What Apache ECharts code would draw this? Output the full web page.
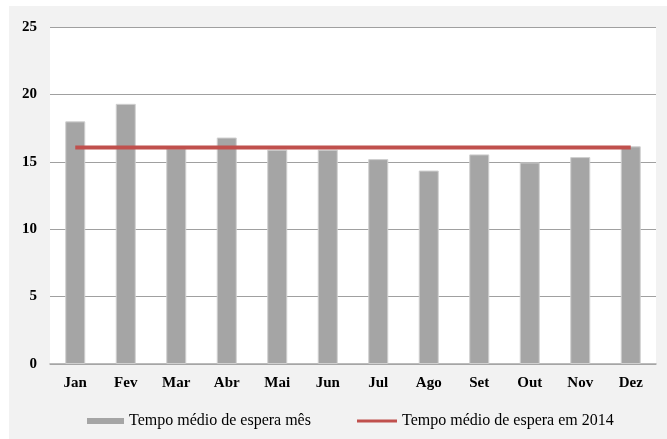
<!DOCTYPE html>
<html>
<head>
<meta charset="utf-8">
<script src="https://cdn.jsdelivr.net/npm/echarts@6/dist/echarts.min.js"></script>
<style>
  html, body { margin: 0; padding: 0; background: #ffffff; }
  #chart { width: 667px; height: 439px; }
</style>
</head>
<body>
<div id="chart"></div>
<script>
// meses
var months = ['Jan', 'Fev', 'Mar', 'Abr', 'Mai', 'Jun', 'Jul', 'Ago', 'Set', 'Out', 'Nov', 'Dez'];
// tempo médio de espera por mês
var monthlyWait = [18.0, 19.3, 16.0, 16.8, 15.9, 15.9, 15.2, 14.35, 15.55, 14.95, 15.35, 16.15];
// tempo médio de espera em 2014 (constante)
var yearWait = [16.07, 16.07, 16.07, 16.07, 16.07, 16.07, 16.07, 16.07, 16.07, 16.07, 16.07, 16.07];
var yTicks = [0, 5, 10, 15, 20, 25];

var serif = '"Liberation Serif", "DejaVu Serif", serif';
var myChart = echarts.init(document.getElementById('chart'));

myChart.setOption({
  animation: false,
  backgroundColor: '#ffffff',
  graphic: [{
    type: 'rect',
    z: -10,
    shape: { x: 9, y: 6, width: 667, height: 439 },
    style: { fill: '#f2f2f2' }
  }],
  grid: {
    left: 50, right: 11, top: 27, bottom: 75,
    show: true, backgroundColor: '#ffffff', borderWidth: 0
  },
  legend: [{
    left: 82, top: 408,
    itemWidth: 37, itemHeight: 6, itemGap: 0,
    icon: 'rect',
    itemStyle: { borderWidth: 0 },
    data: ['Tempo médio de espera mês'],
    textStyle: { fontFamily: serif, fontSize: 16, color: '#000000' }
  }, {
    left: 352, top: 408,
    itemWidth: 40, itemHeight: 3, itemGap: 0,
    icon: 'rect',
    itemStyle: { borderWidth: 0 },
    data: ['Tempo médio de espera em 2014'],
    textStyle: { fontFamily: serif, fontSize: 16, color: '#000000' }
  }],
  xAxis: {
    type: 'category',
    data: months,
    axisTick: { show: false },
    axisLine: { lineStyle: { color: '#a6a6a6', width: 1.5 } },
    axisLabel: { margin: 12, fontFamily: serif, fontSize: 15, fontWeight: 'bold', color: '#000000' }
  },
  yAxis: {
    type: 'value',
    min: yTicks[0], max: yTicks[yTicks.length - 1], interval: 5,
    axisLine: { show: false },
    axisTick: { show: false },
    splitLine: { lineStyle: { color: '#a0a0a0', width: 1 } },
    axisLabel: { margin: 13, fontFamily: serif, fontSize: 15, fontWeight: 'bold', color: '#000000' }
  },
  series: [{
    name: 'Tempo médio de espera mês',
    type: 'bar',
    data: monthlyWait,
    barWidth: 20,
    itemStyle: { color: '#a5a5a5', borderColor: '#cfcfcf', borderWidth: 1 }
  }, {
    name: 'Tempo médio de espera em 2014',
    type: 'line',
    data: yearWait,
    showSymbol: false,
    symbol: 'none',
    lineStyle: { color: '#c0504d', width: 4 },
    itemStyle: { color: '#c0504d' },
    z: 5
  }]
});
</script>
</body>
</html>
